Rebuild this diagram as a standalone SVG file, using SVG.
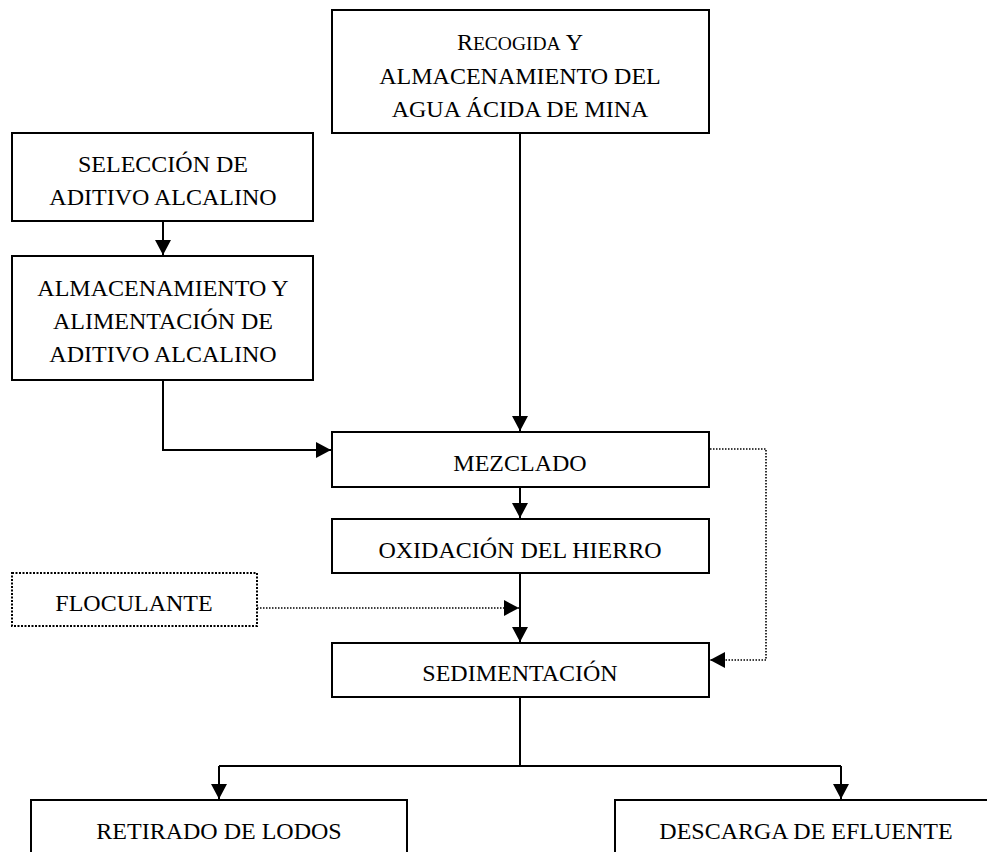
<svg xmlns="http://www.w3.org/2000/svg" width="987" height="852" viewBox="0 0 987 852">
<defs>
<marker id="ah" markerUnits="userSpaceOnUse" markerWidth="16" markerHeight="16" refX="15" refY="8" orient="auto" overflow="visible">
<path d="M0,0 L15,8 L0,16 z" fill="#000"/>
</marker>
<style>
.box{fill:#fff;stroke:#000;stroke-width:2}
.dbox{fill:#fff;stroke:#000;stroke-width:2;stroke-dasharray:2 1.5}
.t{font-family:"Liberation Serif","Times New Roman",serif;font-size:24px;fill:#000;text-anchor:middle}
.ln{fill:none;stroke:#000;stroke-width:2}
.dl{fill:none;stroke:#000;stroke-width:1.6;stroke-dasharray:1.5 1.5}
</style>
</defs>
<rect width="987" height="852" fill="#fff"/>
<g id="connectors">
<path class="ln" d="M520,133 V431" marker-end="url(#ah)"/>
<path class="ln" d="M163,221 V255" marker-end="url(#ah)"/>
<path class="ln" d="M163,380 V450 H331" marker-end="url(#ah)"/>
<path class="ln" d="M520,487 V518" marker-end="url(#ah)"/>
<path class="ln" d="M520,573 V642" marker-end="url(#ah)"/>
<path class="dl" d="M257,608 H519" marker-end="url(#ah)"/>
<path class="dl" d="M710,449 H766 V660 H710" marker-end="url(#ah)"/>
<path class="ln" d="M520,697 V766"/>
<path class="ln" d="M219,766 H841"/>
<path class="ln" d="M219,766 V799" marker-end="url(#ah)"/>
<path class="ln" d="M841,766 V799" marker-end="url(#ah)"/>
</g>
<g id="recogida">
<rect class="box" x="332" y="10" width="377" height="123"/>
<text class="t" x="520" y="50">R<tspan font-size="19.5">ECOGIDA</tspan> Y</text>
<text class="t" x="520" y="84">ALMACENAMIENTO DEL</text>
<text class="t" x="520" y="117">AGUA ÁCIDA DE MINA</text>
</g>
<g id="seleccion">
<rect class="box" x="12" y="133" width="301" height="88"/>
<text class="t" x="163" y="172">SELECCIÓN DE</text>
<text class="t" x="163" y="205">ADITIVO ALCALINO</text>
</g>
<g id="almacenamiento">
<rect class="box" x="12" y="256" width="301" height="124"/>
<text class="t" x="163" y="296">ALMACENAMIENTO Y</text>
<text class="t" x="163" y="329">ALIMENTACIÓN DE</text>
<text class="t" x="163" y="362">ADITIVO ALCALINO</text>
</g>
<g id="mezclado">
<rect class="box" x="332" y="432" width="377" height="55"/>
<text class="t" x="520" y="471">MEZCLADO</text>
</g>
<g id="oxidacion">
<rect class="box" x="332" y="519" width="377" height="54"/>
<text class="t" x="520" y="558">OXIDACIÓN DEL HIERRO</text>
</g>
<g id="floculante">
<rect class="dbox" x="12" y="573" width="245" height="53"/>
<text class="t" x="134" y="611">FLOCULANTE</text>
</g>
<g id="sedimentacion">
<rect class="box" x="332" y="643" width="377" height="54"/>
<text class="t" x="520" y="681">SEDIMENTACIÓN</text>
</g>
<g id="retirado">
<rect class="box" x="31" y="800" width="376" height="70"/>
<text class="t" x="219" y="839">RETIRADO DE LODOS</text>
</g>
<g id="descarga">
<rect class="box" x="615" y="800" width="382" height="70"/>
<text class="t" x="806" y="839">DESCARGA DE EFLUENTE</text>
</g>
</svg>
